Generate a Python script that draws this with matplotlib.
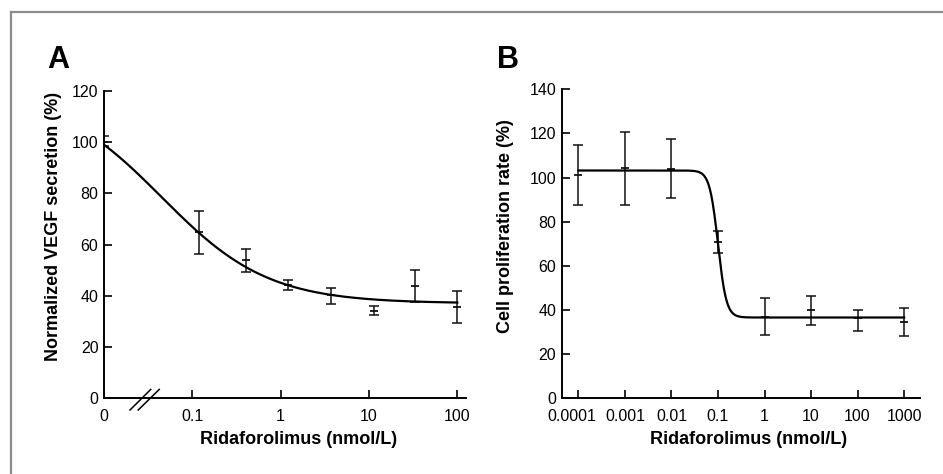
import matplotlib
matplotlib.use("Agg")
import matplotlib.pyplot as plt
import matplotlib.transforms as mtransforms
import numpy as np
from matplotlib.lines import Line2D

plt.rcParams['font.family'] = ['Liberation Sans', 'DejaVu Sans']

# Panel A: VEGF secretion (0 dose is drawn at the 0.01 position of the log axis)
a_dose = [0, 0.12, 0.41, 1.2, 3.7, 11.3, 33, 100]
a_mean = [100, 65.0, 53.9, 44.1, 40.3, 34.0, 43.9, 35.6]
a_err_hi = [102.3, 73.2, 58.3, 46.3, 43.0, 35.9, 49.9, 41.8]
a_err_lo = [98.6, 56.3, 49.1, 42.2, 36.9, 32.3, 37.4, 29.2]
a_zero_pos = 0.01
a_ticks = [0.01, 0.1, 1, 10, 100]
a_ticklabels = ['0', '0.1', '1', '10', '100']
# fitted 4-parameter logistic
a_top, a_bottom, a_ic50, a_hill = 120.0, 37.0, 0.045, 0.72

# Panel B: cell proliferation
b_dose = [1e-4, 1e-3, 1e-2, 0.1, 1, 10, 100, 1000]
b_mean = [101.2, 104.2, 103.8, 70.7, 37.0, 40.0, 36.3, 34.4]
b_err_hi = [114.6, 120.8, 117.5, 75.8, 45.3, 46.4, 40.0, 40.8]
b_err_lo = [87.6, 87.6, 90.6, 65.7, 28.7, 33.2, 30.7, 28.2]
b_ticks = [1e-4, 1e-3, 1e-2, 0.1, 1, 10, 100, 1000]
b_ticklabels = ['0.0001', '0.001', '0.01', '0.1', '1', '10', '100', '1000']
b_top, b_bottom, b_ic50, b_hill = 103.2, 36.6, 0.1, 4.8


def logistic(x, top, bottom, ic50, hill):
    return bottom + (top - bottom) / (1 + (x / ic50) ** hill)


def style_axis(ax):
    for s in ['top', 'right']:
        ax.spines[s].set_visible(False)
    for s in ['left', 'bottom']:
        ax.spines[s].set_linewidth(1.4)
    ax.tick_params(direction='in', length=6, width=1.2, labelsize=11.5)
    ax.tick_params(axis='x', pad=8)
    ax.tick_params(axis='y', pad=4)
    ax.minorticks_off()


def draw_points(ax, x, mean, hi, lo):
    mean = np.array(mean)
    yerr = [mean - np.array(lo), np.array(hi) - mean]
    ax.errorbar(x, mean, yerr=yerr, fmt='none', ecolor='#111111',
                elinewidth=1.1, capsize=3.8, capthick=1.1)
    ax.plot(x, mean, linestyle='none', marker='_', markersize=6,
            markeredgewidth=1.3, color='#111111')


fig = plt.figure(figsize=(9.43, 4.74), dpi=100)

# ---- Panel A
axA = fig.add_axes([0.1103, 0.1603, 0.384, 0.6477])
xa = [a_zero_pos if d == 0 else d for d in a_dose]
draw_points(axA, xa, a_mean, a_err_hi, a_err_lo)
xs = np.logspace(np.log10(a_zero_pos), 2, 400)
axA.plot(xs, logistic(xs, a_top, a_bottom, a_ic50, a_hill), color='black', lw=1.6)
axA.set_xscale('log')
axA.set_xlim(a_zero_pos, 10 ** 2.1)
axA.set_ylim(0, 120)
axA.set_yticks([0, 20, 40, 60, 80, 100, 120])
axA.set_xticks(a_ticks)
axA.set_xticklabels(a_ticklabels)
style_axis(axA)
axA.xaxis.get_major_ticks()[0].tick1line.set_visible(False)
axA.set_ylabel('Normalized VEGF secretion (%)', fontsize=13, fontweight='bold')
axA.yaxis.set_label_coords(-0.116, 0.559)
axA.set_xlabel('Ridaforolimus (nmol/L)', fontsize=13, fontweight='bold')
axA.xaxis.set_label_coords(0.536, -0.106)
# axis break marks
for x0, x1 in [(0.0718, 0.129), (0.0945, 0.1525)]:
    axA.plot([x0, x1], [-0.039, 0.028], transform=axA.transAxes,
             color='black', lw=1.1, clip_on=False)

# ---- Panel B
axB = fig.add_axes([0.5957, 0.1597, 0.380, 0.652])
draw_points(axB, b_dose, b_mean, b_err_hi, b_err_lo)
xs = np.logspace(-4, 3, 600)
axB.plot(xs, logistic(xs, b_top, b_bottom, b_ic50, b_hill), color='black', lw=1.6)
axB.set_xscale('log')
axB.set_xlim(10 ** -4.358, 10 ** 3.344)
axB.set_ylim(0, 140)
axB.set_yticks([0, 20, 40, 60, 80, 100, 120, 140])
axB.set_xticks(b_ticks)
axB.set_xticklabels(b_ticklabels)
style_axis(axB)
# first label sits a little left of its tick in the original
first = axB.get_xticklabels()[0]
first.set_transform(first.get_transform() +
                    mtransforms.ScaledTranslation(-7 / 100, 0, fig.dpi_scale_trans))
axB.set_ylabel('Cell proliferation rate (%)', fontsize=13, fontweight='bold')
axB.yaxis.set_label_coords(-0.133, 0.558)
axB.set_xlabel('Ridaforolimus (nmol/L)', fontsize=13, fontweight='bold')
axB.xaxis.set_label_coords(0.522, -0.106)

# panel letters
fig.text(47 / 943, 1 - 68 / 474, 'A', fontsize=22, fontweight='bold', va='baseline')
fig.text(497 / 943, 1 - 68 / 474, 'B', fontsize=22, fontweight='bold', va='baseline')

# grey frame (top and left edges)
frame_y = 1 - 11.5 / 474
frame_x = 10.5 / 943
fig.add_artist(Line2D([frame_x, 1], [frame_y, frame_y], color='#8c8c8c', lw=1.6))
fig.add_artist(Line2D([frame_x, frame_x], [0, frame_y], color='#8c8c8c', lw=1.6))

fig.savefig('out.png', dpi=100)
